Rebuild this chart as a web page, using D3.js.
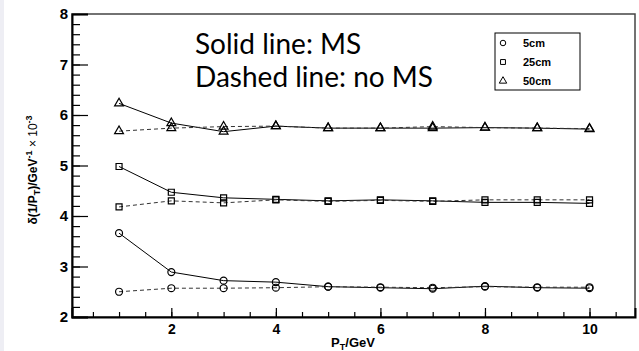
<!DOCTYPE html>
<html>
<head>
<meta charset="utf-8">
<script src="https://cdn.jsdelivr.net/npm/d3@7"></script>
<style>
  body { margin: 0; background: #fff; }
  svg { display: block; }
  .tick text { font-family: "Liberation Sans", Arial, sans-serif; font-weight: bold; }
</style>
</head>
<body>
<div id="chart"></div>
<script>
// momentum points (GeV)
const pt = [1, 2, 3, 4, 5, 6, 7, 8, 9, 10];

// resolution values, x 10^-3, MS = multiple scattering
const ms5 = [3.66, 2.89, 2.72, 2.69, 2.60, 2.58, 2.56, 2.61, 2.58, 2.57];
const noMs5 = [2.50, 2.57, 2.57, 2.58, 2.60, 2.59, 2.58, 2.60, 2.59, 2.59];
const ms25 = [4.98, 4.47, 4.36, 4.33, 4.30, 4.32, 4.30, 4.27, 4.27, 4.25];
const noMs25 = [4.18, 4.30, 4.26, 4.32, 4.29, 4.31, 4.29, 4.32, 4.32, 4.32];
const ms50 = [6.23, 5.84, 5.67, 5.78, 5.74, 5.74, 5.74, 5.75, 5.74, 5.72];
const noMs50 = [5.68, 5.74, 5.77, 5.78, 5.74, 5.74, 5.77, 5.75, 5.74, 5.73];

const legendLabels = ["5cm", "25cm", "50cm"];
const xTicks = [2, 4, 6, 8, 10];
const yTicks = [2, 3, 4, 5, 6, 7, 8];

const svgWidth = 639;
const svgHeight = 351;
const margin = { top: 14, right: 4, bottom: 34, left: 72 };
const width = svgWidth - margin.left - margin.right;
const height = svgHeight - margin.top - margin.bottom;

const svg = d3.select("#chart").append("svg")
  .attr("width", svgWidth)
  .attr("height", svgHeight);

// faint page edge on the left
svg.append("rect").attr("x", 0).attr("y", 0).attr("width", 4).attr("height", svgHeight)
  .attr("fill", "#eeeef4");

const chartGroup = svg.append("g")
  .attr("transform", `translate(${margin.left}, ${margin.top})`);

const x = d3.scaleLinear().domain([0.1, 10.87]).range([0, width]);
const y = d3.scaleLinear().domain([2, 8]).range([height, 0]);

// frame (top / right)
chartGroup.append("rect")
  .attr("width", width).attr("height", height)
  .attr("fill", "none").attr("stroke", "#444").attr("stroke-width", 1.5);

// minor ticks
chartGroup.append("g")
  .attr("transform", `translate(0, ${height})`)
  .call(d3.axisBottom(x).tickValues(d3.range(0.5, 10.8, 0.5)).tickSize(-5).tickFormat(""))
  .call(g => g.select(".domain").remove());
chartGroup.append("g")
  .call(d3.axisLeft(y).tickValues(d3.range(2, 8.01, 0.2)).tickSize(-8).tickFormat(""))
  .call(g => g.select(".domain").remove());

// major ticks
const xAxis = chartGroup.append("g")
  .attr("transform", `translate(0, ${height})`)
  .call(d3.axisBottom(x).tickValues(xTicks).tickSize(-9).tickFormat(d3.format("d")));
xAxis.selectAll("text").attr("y", 4).attr("dy", "0.9em").style("font-size", "14px");

const yAxis = chartGroup.append("g")
  .call(d3.axisLeft(y).tickValues(yTicks).tickSize(-16).tickFormat(d3.format("d")));
yAxis.selectAll("text").attr("x", -4).style("font-size", "15px");

chartGroup.selectAll(".domain").attr("stroke", "#000").attr("stroke-width", 2);
chartGroup.selectAll(".tick line").attr("stroke", "#000").attr("stroke-width", 1.2);

// series
const series = [
  { values: ms5, shape: d3.symbolCircle, dashed: false },
  { values: noMs5, shape: d3.symbolCircle, dashed: true },
  { values: ms25, shape: d3.symbolSquare, dashed: false },
  { values: noMs25, shape: d3.symbolSquare, dashed: true },
  { values: ms50, shape: d3.symbolTriangle, dashed: false },
  { values: noMs50, shape: d3.symbolTriangle, dashed: true }
];

const line = d3.line()
  .x((d, i) => x(pt[i]))
  .y(d => y(d));

series.forEach(s => {
  chartGroup.append("path")
    .datum(s.values)
    .attr("d", line)
    .attr("fill", "none")
    .attr("stroke", s.dashed ? "#333" : "#000")
    .attr("stroke-width", 1)
    .attr("stroke-dasharray", s.dashed ? "4,3" : null);
});

function symbolFor(shape) {
  const size = shape === d3.symbolCircle ? 38 : shape === d3.symbolSquare ? 36 : 34;
  return d3.symbol().type(shape).size(size)();
}

series.forEach(s => {
  chartGroup.selectAll(null)
    .data(s.values)
    .enter()
    .append("path")
    .attr("d", symbolFor(s.shape))
    .attr("transform", (d, i) => `translate(${x(pt[i])}, ${y(d)})`)
    .attr("fill", "none")
    .attr("stroke", "#000")
    .attr("stroke-width", 1.2);
});

// annotation
const note = svg.append("g")
  .style("font-family", "Lato, 'Noto Sans', sans-serif")
  .style("font-size", "28px");
note.append("text").attr("x", 195).attr("y", 54).text("Solid line: MS");
note.append("text").attr("x", 195).attr("y", 87).text("Dashed line: no MS");

// legend
const legend = svg.append("g").attr("transform", "translate(495, 33)");
legend.append("rect")
  .attr("width", 85).attr("height", 57)
  .attr("fill", "#fff").attr("stroke", "#000").attr("stroke-width", 1);
const legendShapes = [d3.symbolCircle, d3.symbolSquare, d3.symbolTriangle];
legendLabels.forEach((label, i) => {
  const cy = 10 + i * 19;
  legend.append("path")
    .attr("d", d3.symbol().type(legendShapes[i]).size(24)())
    .attr("transform", `translate(8, ${cy})`)
    .attr("fill", "none").attr("stroke", "#000").attr("stroke-width", 1);
  legend.append("text")
    .attr("x", 28).attr("y", cy + 4)
    .style("font-family", "'Liberation Sans', Arial, sans-serif")
    .style("font-weight", "bold")
    .style("font-size", "11px")
    .text(label);
});

// axis labels
const yLabel = svg.append("text")
  .attr("transform", `translate(37, 170) rotate(-90)`)
  .attr("text-anchor", "middle")
  .style("font-family", "'Liberation Sans', Arial, sans-serif")
  .style("font-weight", "bold")
  .style("font-size", "12px");
yLabel.append("tspan").text("δ(1/P");
yLabel.append("tspan").attr("dy", 3).style("font-size", "9px").text("T");
yLabel.append("tspan").attr("dy", -3).text(")/GeV");
yLabel.append("tspan").attr("dy", -5).style("font-size", "9px").text("-1");
yLabel.append("tspan").attr("dy", 5).style("font-weight", "normal").text(" × 10");
yLabel.append("tspan").attr("dy", -5).style("font-size", "9px").text("-3");

const xLabel = svg.append("text")
  .attr("x", 353).attr("y", 347)
  .attr("text-anchor", "middle")
  .style("font-family", "'Liberation Sans', Arial, sans-serif")
  .style("font-weight", "bold")
  .style("font-size", "13px");
xLabel.append("tspan").text("P");
xLabel.append("tspan").attr("dy", 3).style("font-size", "9px").text("T");
xLabel.append("tspan").attr("dy", -3).text("/GeV");
</script>
</body>
</html>
